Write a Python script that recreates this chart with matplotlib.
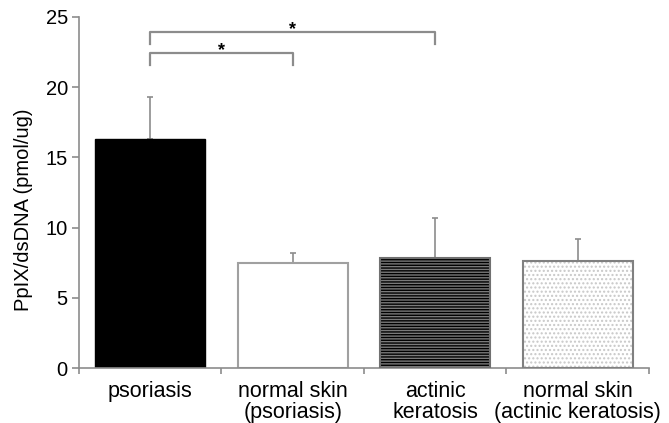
import matplotlib.pyplot as plt

plt.rcParams['font.family'] = ['Liberation Sans', 'DejaVu Sans']

categories = ['psoriasis', 'normal skin\n(psoriasis)', 'actinic\nkeratosis', 'normal skin\n(actinic keratosis)']
means = [16.3, 7.5, 7.8, 7.6]
errors = [3.0, 0.7, 2.9, 1.6]
brackets = [(0, 1, 22.4, 21.6), (0, 2, 23.9, 23.1)]

fig = plt.figure(figsize=(6.69, 4.23), dpi=100)
ax = fig.add_axes([0.118, 0.130, 0.852, 0.830])

x = list(range(len(categories)))
w = 0.77
grey = '#8c8c8c'

ax.errorbar(x, means, yerr=[[0] * 4, errors], fmt='none', ecolor=grey,
            elinewidth=1.2, capsize=2.5, capthick=1.2, zorder=1)

# psoriasis: solid black
ax.bar(x[0], means[0], w, color='black', edgecolor='black', zorder=2)
# normal skin (psoriasis): open
ax.bar(x[1], means[1], w, color='white', edgecolor='#a0a0a0', linewidth=1.5, zorder=2)
# actinic keratosis: horizontal stripes
ax.bar(x[2], means[2], w, color='#7a7a7a', edgecolor='black', hatch='------',
       linewidth=0, zorder=2)
ax.bar(x[2], means[2], w, fill=False, edgecolor='#707070', linewidth=1.5, zorder=3)
# normal skin (actinic keratosis): dotted
ax.bar(x[3], means[3], w, color='white', edgecolor='#c8c8c8', hatch='....',
       linewidth=0, zorder=2)
ax.bar(x[3], means[3], w, fill=False, edgecolor='#808080', linewidth=1.5, zorder=3)

for a, b, top, low in brackets:
    ax.plot([a, a, b, b], [low, top, top, low], color=grey, linewidth=1.6,
            clip_on=False, zorder=4)
    ax.text((a + b) / 2, top - 0.1, '*', ha='center', va='baseline', fontsize=13,
            fontweight='bold')

ax.set_xlim(-0.5, 3.5)
ax.set_ylim(0, 25)
ax.set_yticks([0, 5, 10, 15, 20, 25])
ax.set_xticks([])
ax.set_xticks([-0.5, 0.5, 1.5, 2.5, 3.5], minor=True)
ax.tick_params(axis='x', which='minor', length=4, width=1.2, color=grey)
ax.tick_params(axis='y', length=5, width=1.2, color=grey, labelsize=14.5, pad=3)

for i, lab in enumerate(categories):
    ax.text(i, -0.9, lab, ha='center', va='top', fontsize=15.5, linespacing=1.05)

ax.set_ylabel('PpIX/dsDNA (pmol/ug)', fontsize=14.5)
ax.yaxis.set_label_coords(-0.08, 0.45)

for side in ['top', 'right']:
    ax.spines[side].set_visible(False)
for side in ['left', 'bottom']:
    ax.spines[side].set_color(grey)
    ax.spines[side].set_linewidth(1.2)

fig.savefig('out.png', dpi=100)
